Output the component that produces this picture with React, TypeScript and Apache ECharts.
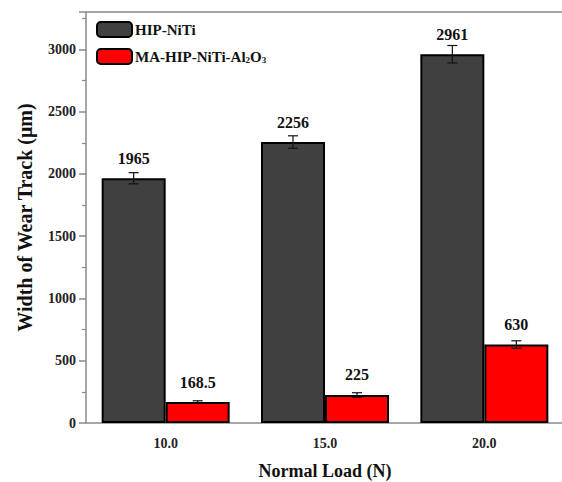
import React, { useEffect, useRef } from "react";
import * as echarts from "echarts";

const categories = ["10.0", "15.0", "20.0"];
const seriesNames = ["HIP-NiTi", "MA-HIP-NiTi-Al2O3"];
const hipValues = [1965, 2256, 2961];
const hipErrors = [45, 50, 70];
const maValues = [168.5, 225, 630];
const maErrors = [10, 18, 30];
const yTicks = { min: 0, max: 3300, interval: 500 };

const FONT = "Liberation Serif, Times New Roman, DejaVu Serif, serif";
const BAR_W = 64;
const AXIS_GRAY = "#8a8a8a";

export default function App() {
  const ref = useRef<HTMLDivElement>(null);
  useEffect(() => {
    if (!ref.current) return;
    const chart = echarts.init(ref.current, undefined, { renderer: "svg" });

    const errSeries = (values: number[], errs: number[], offset: number, name: string) => ({
      type: "custom",
      name: name + "-err",
      z: 10,
      silent: true,
      data: values.map((v, i) => [i, v, errs[i]]),
      renderItem: (params: any, api: any) => {
        const i = api.value(0);
        const v = api.value(1);
        const e = api.value(2);
        const top = api.coord([i, v + e]);
        const bot = api.coord([i, v - e]);
        const x = top[0] + offset;
        const cap = 5;
        const st = { stroke: "#111", lineWidth: 1.2 };
        return {
          type: "group",
          children: [
            { type: "line", shape: { x1: x, y1: top[1], x2: x, y2: bot[1] }, style: st },
            { type: "line", shape: { x1: x - cap, y1: top[1], x2: x + cap, y2: top[1] }, style: st },
            { type: "line", shape: { x1: x - cap, y1: bot[1], x2: x + cap, y2: bot[1] }, style: st },
          ],
        };
      },
    });

    const labelStyle = {
      show: true,
      position: "top",
      distance: 12,
      fontFamily: FONT,
      fontWeight: "bold",
      fontSize: 16,
      color: "#111",
    };

    chart.setOption({
      animation: false,
      backgroundColor: "#fff",
      grid: {
        left: 86,
        right: -2,
        top: 12,
        bottom: 59,
        containLabel: false,
        outerBoundsMode: "none",
        show: false,
      },
      legend: {
        orient: "vertical",
        left: 96,
        top: 21,
        padding: 0,
        itemWidth: 35,
        itemHeight: 15,
        itemGap: 10,
        data: seriesNames,
        formatter: (name: string) =>
          name === seriesNames[1]
            ? "{a|MA-HIP-NiTi-Al}{s|2}{a|O}{s|3}"
            : "{a|" + name + "}",
        textStyle: {
          fontFamily: FONT,
          fontWeight: "bold",
          fontSize: 15,
          color: "#111",
          padding: [0, 0, 0, -2],
          rich: {
            a: { fontFamily: FONT, fontWeight: "bold", fontSize: 15, color: "#111", lineHeight: 16 },
            s: {
              fontFamily: FONT,
              fontWeight: "bold",
              fontSize: 9,
              color: "#111",
              lineHeight: 16,
              verticalAlign: "bottom",
              padding: [6, 0, 0, 0],
            },
          },
        },
      },
      xAxis: [
        {
          type: "category",
          data: categories,
          name: "Normal Load (N)",
          nameLocation: "middle",
          nameGap: 39,
          nameTextStyle: { fontFamily: FONT, fontWeight: "bold", fontSize: 18, color: "#111" },
          axisLine: { lineStyle: { color: AXIS_GRAY, width: 1.5 } },
          axisTick: { alignWithLabel: true, length: 6, lineStyle: { color: AXIS_GRAY, width: 1.5 } },
          axisLabel: { fontFamily: FONT, fontWeight: "bold", fontSize: 14, color: "#222", margin: 13 },
        },
        {
          type: "category",
          data: categories,
          position: "top",
          axisLine: { show: true, lineStyle: { color: AXIS_GRAY, width: 1.5 } },
          axisTick: { show: false },
          axisLabel: { show: false },
        },
      ],
      yAxis: {
        type: "value",
        min: yTicks.min,
        max: yTicks.max,
        interval: yTicks.interval,
        name: "Width of Wear Track (μm)",
        nameLocation: "middle",
        nameGap: 51,
        nameTextStyle: { fontFamily: FONT, fontWeight: "bold", fontSize: 20, color: "#111" },
        axisLine: { show: true, lineStyle: { color: AXIS_GRAY, width: 1.5 } },
        axisTick: { show: true, length: 7, lineStyle: { color: AXIS_GRAY, width: 1.5 } },
        minorTick: { show: true, splitNumber: 2, length: 4, lineStyle: { color: AXIS_GRAY, width: 1.2 } },
        splitLine: { show: false },
        axisLabel: {
          fontFamily: FONT,
          fontWeight: "bold",
          fontSize: 14,
          color: "#222",
          margin: 10,
          showMaxLabel: false,
          formatter: (v: number) => String(v),
        },
      },
      series: [
        {
          type: "bar",
          name: seriesNames[0],
          data: hipValues,
          barWidth: BAR_W,
          barGap: "0%",
          itemStyle: { color: "#404040", borderColor: "#000", borderWidth: 2 },
          label: { ...labelStyle },
        },
        {
          type: "bar",
          name: seriesNames[1],
          data: maValues,
          barWidth: BAR_W,
          barGap: "0%",
          itemStyle: { color: "#ff0000", borderColor: "#000", borderWidth: 2 },
          label: { ...labelStyle },
        },
        errSeries(hipValues, hipErrors, -BAR_W / 2, seriesNames[0]),
        errSeries(maValues, maErrors, BAR_W / 2, seriesNames[1]),
      ],
    });
    return () => chart.dispose();
  }, []);

  return (
    <div
      ref={ref}
      style={{ position: "fixed", left: 0, top: 0, width: 562, height: 482, background: "#fff" }}
    />
  );
}
